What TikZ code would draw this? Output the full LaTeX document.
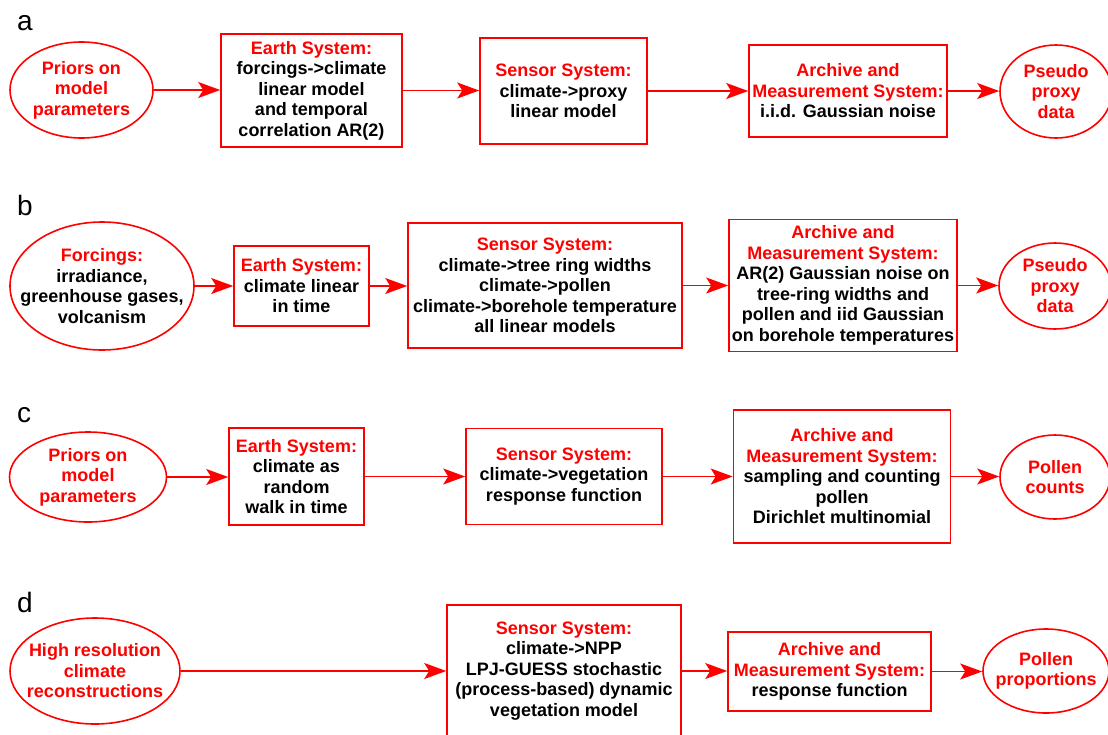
\documentclass[tikz,border=0pt]{standalone}
\usepackage{fontspec}
\setmainfont{Liberation Sans}
\usetikzlibrary{shapes.geometric,arrows.meta}
\definecolor{rd}{RGB}{255,0,0}
\newcommand\boxfont{\fontsize{18}{20.5}\selectfont\bfseries}
\newcommand\rt[1]{\textcolor{rd}{#1}}
\begin{document}
\begin{tikzpicture}[x=1pt,y=-1pt,
  box/.style={draw=rd, line width=1.6pt, inner sep=0pt, align=center, font=\boxfont},
  oval/.style={ellipse, draw=rd, line width=1.6pt, inner sep=0pt},
  ovtext/.style={inner sep=0pt, align=center, font=\boxfont, text=rd},
  arr/.style={draw=rd, line width=1.4pt, -{Stealth[length=22pt,width=16pt,inset=5pt]}},
  lab/.style={anchor=base west, inner sep=0pt, font=\fontsize{28}{30}\selectfont}]
\useasboundingbox (0,0) rectangle (1108,734);
\clip (0,0) rectangle (1108,734);
% labels
\node[lab] (la) at (17,30) {a};
\node[lab] (lb) at (17,215) {b};
\node[lab] (lc) at (17,422) {c};
\node[lab] (ld) at (17,612) {d};
% row a
\node[oval, minimum width=143pt, minimum height=96pt] (a1) at (81.5,90) {};
\node[ovtext] (a1t) at (a1) {Priors on\\model\\parameters};
\node[box, minimum width=181pt, minimum height=113pt] (a2) at (311.5,90.5) {\rt{Earth System:}\\forcings->climate\\linear model\\and temporal\\correlation AR(2)};
\node[box, minimum width=167pt, minimum height=106pt] (a3) at (563.5,91) {\rt{Sensor System:}\\climate->proxy\\linear model};
\node[box, minimum width=198pt, minimum height=92pt] (a4) at (848,91) {\rt{Archive and}\\\rt{Measurement System:}\\i.i.d. Gaussian noise};
\node[oval, minimum width=112pt, minimum height=93pt] (a5) at (1056,91.5) {};
\node[ovtext] (a5t) at (a5) {Pseudo\\proxy\\data};
\draw[arr] (a1.east) -- (a1.east -| a2.west);
\draw[arr] (a2.east) -- (a2.east -| a3.west);
\draw[arr] (a3.east) -- (a3.east -| a4.west);
\draw[arr] (a4.east) -- (a4.east -| a5.west);
% row b
\node[oval, minimum width=184pt, minimum height=128pt] (b1) at (102,286) {};
\node[ovtext] (b1t) at (b1) {\rt{Forcings:}\\\color{black}irradiance,\\\color{black}greenhouse gases,\\\color{black}volcanism};
\node[box, minimum width=135pt, minimum height=80pt] (b2) at (301.5,286) {\rt{Earth System:}\\climate linear\\in time};
\node[box, minimum width=274pt, minimum height=125pt] (b3) at (545,285.5) {\rt{Sensor System:}\\climate->tree ring widths\\climate->pollen\\climate->borehole temperature\\all linear models};
\node[box, minimum width=228pt, minimum height=132pt] (b4) at (843,285.5) {\rt{Archive and}\\\rt{Measurement System:}\\AR(2) Gaussian noise on\\tree-ring widths and\\pollen and iid Gaussian\\on borehole temperatures};
\node[oval, minimum width=112pt, minimum height=86pt] (b5) at (1055,286) {};
\node[ovtext] (b5t) at (b5) {Pseudo\\proxy\\data};
\draw[arr] (b1.east) -- (b1.east -| b2.west);
\draw[arr] (b2.east) -- (b2.east -| b3.west);
\draw[arr] (b3.east) -- (b3.east -| b4.west);
\draw[arr] (b4.east) -- (b4.east -| b5.west);
% row c
\node[oval, minimum width=157pt, minimum height=90pt] (c1) at (88,477) {};
\node[ovtext] (c1t) at (c1) {Priors on\\model\\parameters};
\node[box, minimum width=135pt, minimum height=97pt] (c2) at (296.5,476.5) {\rt{Earth System:}\\climate as\\random\\walk in time};
\node[box, minimum width=196pt, minimum height=96pt] (c3) at (564,476.5) {\rt{Sensor System:}\\climate->vegetation\\response function};
\node[box, minimum width=217pt, minimum height=133pt] (c4) at (842,476.5) {\rt{Archive and}\\\rt{Measurement System:}\\sampling and counting\\pollen\\Dirichlet multinomial};
\node[oval, minimum width=110pt, minimum height=84pt] (c5) at (1055,477) {};
\node[ovtext] (c5t) at (c5) {Pollen\\counts};
\draw[arr] (c1.east) -- (c1.east -| c2.west);
\draw[arr] (c2.east) -- (c2.east -| c3.west);
\draw[arr] (c3.east) -- (c3.east -| c4.west);
\draw[arr] (c4.east) -- (c4.east -| c5.west);
% row d
\node[oval, minimum width=170pt, minimum height=106pt] (d1) at (95,671) {};
\node[ovtext] (d1t) at (d1) {High resolution\\climate\\reconstructions};
\node[box, minimum width=234pt, minimum height=132pt] (d2) at (564,671) {\rt{Sensor System:}\\climate->NPP\\LPJ-GUESS stochastic\\(process-based) dynamic\\vegetation model};
\node[box, minimum width=203pt, minimum height=79pt] (d3) at (829.5,671.5) {\rt{Archive and}\\\rt{Measurement System:}\\response function};
\node[oval, minimum width=126pt, minimum height=84pt] (d4) at (1046,671) {};
\node[ovtext] (d4t) at (d4) {Pollen\\proportions};
\draw[arr] (d1.east) -- (d1.east -| d2.west);
\draw[arr] (d2.east) -- (d2.east -| d3.west);
\draw[arr] (d3.east) -- (d3.east -| d4.west);
\end{tikzpicture}
\end{document}
